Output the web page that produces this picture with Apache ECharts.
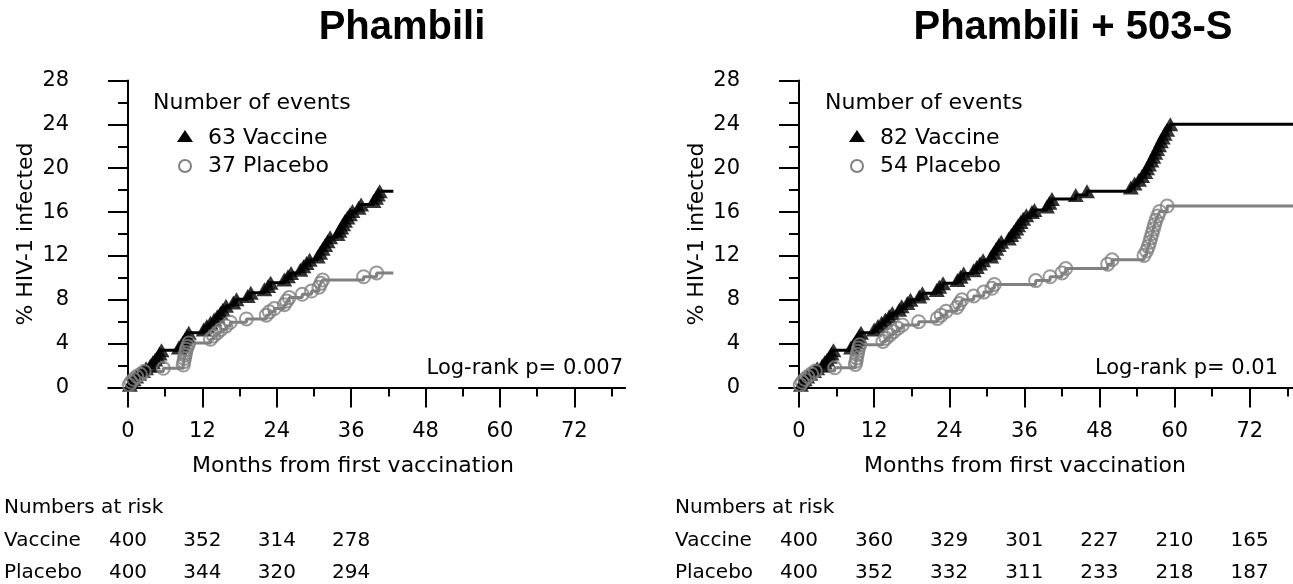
<!DOCTYPE html>
<html>
<head>
<meta charset="utf-8">
<script src="https://cdn.jsdelivr.net/npm/echarts@6/dist/echarts.min.js"></script>
<style>
html, body { margin: 0; padding: 0; background: #fff; }
#chart { width: 1293px; height: 584px; }
</style>
</head>
<body>
<div id="chart"></div>
<script>
// ---- data (months from first vaccination, cumulative % infected) ----
const xMajorTicks = [0, 12, 24, 36, 48, 60, 72]
const xMinorTicks = [6, 18, 30, 42, 54, 66, 78]

// Phambili
const leftVacTimes = [0.3, 0.6, 0.9, 1.3, 1.8, 2.4, 2.9, 3.6, 4.0, 4.4, 4.8, 5.1, 5.4, 8.2, 8.6, 8.9, 9.2, 9.5, 9.8, 12.2, 12.7, 13.3, 13.9, 14.4, 14.9, 15.3, 15.8, 17.0, 17.5, 19.3, 19.8, 22.0, 22.6, 23.0, 25.2, 25.8, 26.3, 27.8, 28.3, 28.8, 29.3, 30.6, 31.0, 31.4, 31.8, 32.2, 32.6, 33.8, 34.1, 34.4, 34.7, 35.0, 35.4, 35.8, 36.2, 37.2, 37.6, 39.6, 40.0, 40.3, 40.6]
const leftVacPct = [0.25, 0.5, 0.75, 1.0, 1.25, 1.5, 1.75, 2.0, 2.3, 2.55, 2.8, 3.1, 3.4, 3.65, 3.9, 4.15, 4.4, 4.7, 5.0, 5.3, 5.6, 5.9, 6.2, 6.5, 6.8, 7.1, 7.45, 7.75, 8.05, 8.35, 8.65, 8.95, 9.25, 9.55, 9.85, 10.15, 10.45, 10.75, 11.05, 11.35, 11.65, 11.95, 12.3, 12.65, 13.0, 13.35, 13.7, 14.0, 14.3, 14.6, 14.9, 15.2, 15.5, 15.8, 16.1, 16.4, 16.7, 17.0, 17.3, 17.6, 17.9]
const leftPlaTimes = [0.2, 0.5, 0.9, 1.4, 2.0, 2.6, 5.7, 8.9, 9.0, 9.1, 9.2, 9.3, 9.4, 9.6, 9.8, 13.3, 13.8, 14.4, 15.0, 15.8, 16.5, 19.1, 22.3, 22.8, 23.6, 25.2, 25.6, 26.0, 28.1, 29.6, 30.8, 31.1, 31.4, 38.0, 40.1]
const leftPlaPct = [0.25, 0.5, 0.75, 1.0, 1.2, 1.45, 1.75, 2.05, 2.35, 2.65, 2.95, 3.2, 3.5, 3.75, 4.05, 4.4, 4.7, 5.0, 5.3, 5.6, 5.95, 6.25, 6.6, 6.9, 7.2, 7.55, 7.9, 8.2, 8.5, 8.8, 9.15, 9.5, 9.8, 10.1, 10.45]
const leftFollowUp = 42.8

// Phambili + 503-S
const rightVacTimes = [0.3, 0.6, 0.9, 1.3, 1.8, 2.4, 2.9, 3.7, 4.1, 4.5, 4.9, 5.2, 5.5, 8.3, 8.7, 9.0, 9.3, 9.6, 9.9, 12.0, 12.6, 13.2, 13.8, 14.4, 14.9, 16.0, 16.4, 17.3, 17.8, 19.2, 19.7, 22.0, 22.4, 23.0, 25.3, 25.8, 26.3, 27.9, 28.4, 28.9, 29.4, 30.7, 31.1, 31.5, 31.9, 32.3, 33.5, 33.9, 34.3, 34.7, 35.0, 35.4, 35.8, 36.3, 37.2, 37.6, 39.6, 40.0, 40.4, 44.2, 46.0, 53.0, 53.6, 54.3, 54.8, 55.3, 55.6, 55.9, 56.3, 56.6, 56.9, 57.2, 57.5, 57.8, 58.1, 58.4, 58.8, 59.3]
const rightVacPct = [0.25, 0.5, 0.75, 1.0, 1.25, 1.5, 1.75, 2.0, 2.3, 2.55, 2.8, 3.1, 3.4, 3.65, 3.9, 4.15, 4.4, 4.7, 5.0, 5.3, 5.6, 5.9, 6.2, 6.5, 6.8, 7.1, 7.4, 7.7, 8.0, 8.3, 8.6, 8.9, 9.2, 9.5, 9.8, 10.1, 10.4, 10.7, 11.0, 11.3, 11.6, 11.95, 12.3, 12.65, 13.0, 13.3, 13.6, 13.9, 14.2, 14.5, 14.8, 15.1, 15.4, 15.7, 16.0, 16.2, 16.5, 16.85, 17.2, 17.55, 17.9, 18.25, 18.6, 18.95, 19.3, 19.65, 20.0, 20.35, 20.7, 21.05, 21.4, 21.75, 22.1, 22.45, 22.8, 23.15, 23.5, 24.0]
const rightPlaTimes = [0.2, 0.5, 0.9, 1.4, 2.0, 2.6, 5.7, 9.0, 9.1, 9.2, 9.3, 9.4, 9.5, 9.7, 13.4, 13.9, 14.5, 15.1, 15.8, 16.5, 19.1, 22.1, 22.7, 23.5, 25.2, 25.6, 26.0, 27.9, 29.5, 30.8, 31.2, 37.8, 40.1, 42.0, 42.6, 49.3, 50.0, 55.1, 55.5, 55.8, 56.0, 56.2, 56.4, 56.6, 56.8, 57.0, 57.3, 57.6, 58.8]
const rightPlaPct = [0.25, 0.5, 0.75, 1.0, 1.25, 1.5, 1.8, 2.1, 2.4, 2.7, 3.0, 3.3, 3.6, 3.9, 4.2, 4.5, 4.8, 5.1, 5.4, 5.7, 6.0, 6.3, 6.6, 6.95, 7.3, 7.65, 8.0, 8.35, 8.7, 9.05, 9.4, 9.75, 10.1, 10.45, 10.85, 11.25, 11.65, 12.05, 12.45, 12.85, 13.25, 13.65, 14.05, 14.45, 14.85, 15.25, 15.65, 16.05, 16.55]
const rightFollowUp = 78.9

// numbers at risk, one column per 12 months
const leftRiskVaccine = [400, 352, 314, 278]
const leftRiskPlacebo = [400, 344, 320, 294]
const rightRiskVaccine = [400, 360, 329, 301, 227, 210, 165]
const rightRiskPlacebo = [400, 352, 332, 311, 233, 218, 187]

const FONT = '"DejaVu Sans", sans-serif'
const GRAY = '#808080'

function kmSteps(times, pct, end) {
  const pts = [[0, 0]]
  times.forEach((t, i) => pts.push([t, pct[i]]))
  pts.push([end, pct[pct.length - 1]])
  return pts
}
function events(times, pct) {
  return times.map((t, i) => [t, pct[i]])
}

const myChart = echarts.init(document.getElementById('chart'))

function xAxes(grid, max) {
  return [
    {
      gridIndex: grid, type: 'value', position: 'bottom', min: -3.2, max: max,
      axisLine: { show: true, onZero: false, lineStyle: { color: '#000', width: 2 } },
      axisTick: { show: true, length: 20, customValues: xMajorTicks, lineStyle: { color: '#000', width: 2 } },
      axisLabel: { customValues: xMajorTicks, margin: 34, color: '#000', fontSize: 21, fontFamily: FONT },
      splitLine: { show: false }
    },
    {
      gridIndex: grid, type: 'value', position: 'bottom', min: -3.2, max: max,
      axisLine: { show: false, onZero: false },
      axisTick: { show: true, length: 9, customValues: xMinorTicks, lineStyle: { color: '#000', width: 2 } },
      axisLabel: { show: false },
      splitLine: { show: false }
    }
  ]
}
function yAxis(grid) {
  return {
    gridIndex: grid, type: 'value', min: 0, max: 28, interval: 4,
    axisLine: { show: true, onZero: true, onZeroAxisIndex: grid * 2, lineStyle: { color: '#000', width: 2 } },
    axisTick: { show: true, length: 20, lineStyle: { color: '#000', width: 2 } },
    minorTick: { show: true, splitNumber: 2, length: 10, lineStyle: { color: '#000', width: 2 } },
    axisLabel: { margin: 39, color: '#000', fontSize: 21, fontFamily: FONT, padding: [5, 0, 0, 0] },
    splitLine: { show: false },
    minorSplitLine: { show: false }
  }
}
function panelSeries(grid, vt, vp, pt, pp, end) {
  const xi = grid * 2
  return [
    { type: 'line', step: 'end', xAxisIndex: xi, yAxisIndex: grid, data: kmSteps(vt, vp, end),
      symbol: 'none', lineStyle: { color: '#000', width: 3 }, z: 2, silent: true },
    { type: 'line', step: 'end', xAxisIndex: xi, yAxisIndex: grid, data: kmSteps(pt, pp, end),
      symbol: 'none', lineStyle: { color: GRAY, width: 3 }, z: 2, silent: true },
    { type: 'scatter', xAxisIndex: xi, yAxisIndex: grid, data: events(vt, vp),
      symbol: 'triangle', symbolSize: [16, 14], itemStyle: { color: '#000' }, z: 3, silent: true },
    { type: 'scatter', xAxisIndex: xi, yAxisIndex: grid, data: events(pt, pp),
      symbol: 'circle', symbolSize: 13,
      itemStyle: { color: 'rgba(255,255,255,0)', borderColor: GRAY, borderWidth: 2 }, z: 4, silent: true }
  ]
}

function txt(text, x, y, size, align, extra) {
  return Object.assign({
    type: 'text', x: x, y: y, silent: true,
    style: {
      text: text, fill: '#000', fontSize: size, fontFamily: FONT,
      textAlign: align, align: align, textVerticalAlign: 'middle', verticalAlign: 'middle'
    }
  }, extra || {})
}

function panelGraphics(o) {
  const g = []
  g.push({
    type: 'text', x: o.titleX, y: 28, silent: true,
    style: {
      text: o.title, fill: '#000', fontSize: 40, fontWeight: 'bold', fontFamily: '"Liberation Sans", Arial, sans-serif',
      textAlign: 'center', align: 'center', textVerticalAlign: 'middle', verticalAlign: 'middle'
    }
  })
  g.push(txt('Number of events', o.legX, 103, 22, 'left'))
  g.push({ type: 'polygon', silent: true,
    shape: { points: [[o.legX + 24, 142], [o.legX + 40, 142], [o.legX + 32, 130]] },
    style: { fill: '#000' } })
  g.push(txt(o.vacLabel, o.legX + 55, 138, 22, 'left'))
  g.push({ type: 'circle', silent: true,
    shape: { cx: o.legX + 32, cy: 166, r: 6 },
    style: { fill: 'none', stroke: GRAY, lineWidth: 2 } })
  g.push(txt(o.plaLabel, o.legX + 55, 166, 22, 'left'))
  g.push(txt(o.pText, o.pX, 369, 21, 'right'))
  g.push(txt('Months from first vaccination', o.xNameX, 466, 22, 'center'))
  g.push(txt('% HIV-1 infected', o.yNameX, 234, 22, 'center', { rotation: Math.PI / 2 }))
  g.push(txt('Numbers at risk', o.riskX, 508, 20, 'left'))
  g.push(txt('Vaccine', o.riskX, 541, 20, 'left'))
  g.push(txt('Placebo', o.riskX, 573, 20, 'left'))
  o.riskV.forEach((v, i) => g.push(txt(String(v), o.col0 + i * o.colStep, 541, 20, 'center')))
  o.riskP.forEach((v, i) => g.push(txt(String(v), o.col0 + i * o.colStep, 573, 20, 'center')))
  return g
}

const option = {
  animation: false,
  backgroundColor: '#fff',
  grid: [
    { left: 108.2, right: 667.8, top: 80.5, bottom: 196.5 },
    { left: 779, right: 0, top: 80.5, bottom: 196.5 }
  ],
  xAxis: xAxes(0, 80.2).concat(xAxes(1, rightFollowUp)),
  yAxis: [yAxis(0), yAxis(1)],
  series: panelSeries(0, leftVacTimes, leftVacPct, leftPlaTimes, leftPlaPct, leftFollowUp)
    .concat(panelSeries(1, rightVacTimes, rightVacPct, rightPlaTimes, rightPlaPct, rightFollowUp)),
  graphic: panelGraphics({
    title: 'Phambili', titleX: 402, legX: 153, vacLabel: '63 Vaccine', plaLabel: '37 Placebo',
    pText: 'Log-rank p= 0.007', pX: 623, xNameX: 353, yNameX: 26, riskX: 4,
    riskV: leftRiskVaccine, riskP: leftRiskPlacebo, col0: 128, colStep: 74.4
  }).concat(panelGraphics({
    title: 'Phambili + 503-S', titleX: 1073, legX: 825, vacLabel: '82 Vaccine', plaLabel: '54 Placebo',
    pText: 'Log-rank p= 0.01', pX: 1278, xNameX: 1025, yNameX: 697, riskX: 675,
    riskV: rightRiskVaccine, riskP: rightRiskPlacebo, col0: 799, colStep: 75.1
  }))
}

myChart.setOption(option)
window.addEventListener('resize', function() {
  myChart.resize()
})
</script>
</body>
</html>
